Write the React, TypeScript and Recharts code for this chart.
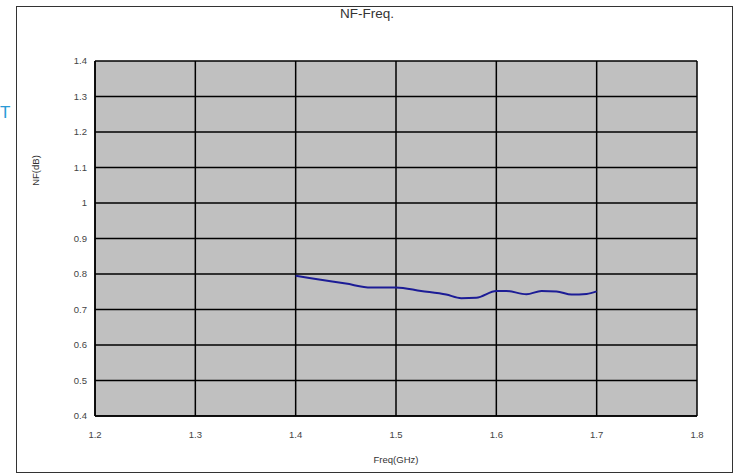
import { CartesianGrid, Label, Line, LineChart, XAxis, YAxis } from "recharts"

const freqs = [1.4, 1.425, 1.45, 1.475, 1.5, 1.525, 1.55, 1.565, 1.58, 1.6, 1.61, 1.63, 1.645, 1.66, 1.675, 1.69, 1.7]
const nf = [0.795, 0.784, 0.773, 0.762, 0.762, 0.752, 0.742, 0.732, 0.733, 0.752, 0.752, 0.743, 0.752, 0.751, 0.742, 0.744, 0.751]

const xTicks = [1.2, 1.3, 1.4, 1.5, 1.6, 1.7, 1.8]
const yTicks = [0.4, 0.5, 0.6, 0.7, 0.8, 0.9, 1, 1.1, 1.2, 1.3, 1.4]

const data = freqs.map((f, i) => ({ freq: f, nf: nf[i] }))

const tickStyle = { fontSize: 9.5, fill: "#444", fontFamily: "Liberation Sans, Arial, sans-serif" }

export default function App() {
  return (
    <div style={{ position: "fixed", left: 0, top: 0, width: 735, height: 475, background: "#fff", fontFamily: "Liberation Sans, Arial, sans-serif" }}>
      <span style={{ position: "absolute", left: 0, top: 103, fontSize: 17, color: "#2a9ad6" }}>T</span>
      <div style={{ position: "absolute", left: 16, top: 6, width: 715, height: 465, border: "1.5px solid #333" }} />
      <span style={{ position: "absolute", left: 367, top: 6, transform: "translateX(-50%)", whiteSpace: "nowrap", fontSize: 13.5, color: "#333" }}>NF-Freq.</span>
      <div style={{ position: "absolute", left: 0, top: 0 }}>
        <LineChart width={735} height={475} data={data} margin={{ top: 61, right: 38, bottom: 29, left: 55 }}>
          <CartesianGrid fill="#c0c0c0" fillOpacity={1} stroke="#000" strokeWidth={1.5} strokeOpacity={1} />
          <XAxis
            dataKey="freq"
            type="number"
            domain={[1.2, 1.8]}
            ticks={xTicks}
            tickFormatter={(v: number) => String(v)}
            axisLine={{ stroke: "#000", strokeWidth: 1.5 }}
            tickLine={false}
            tickSize={6}
            tickMargin={9}
            tick={tickStyle}
            height={30}
          >
            <Label value="Freq(GHz)" position="insideBottom" offset={-17} style={{ fontSize: 9.5, fill: "#333" }} />
          </XAxis>
          <YAxis
            type="number"
            domain={[0.4, 1.4]}
            ticks={yTicks}
            tickFormatter={(v: number) => String(v)}
            axisLine={{ stroke: "#000", strokeWidth: 1.5 }}
            tickLine={false}
            tickSize={6}
            tickMargin={2}
            tick={tickStyle}
            width={40}
          >
            <Label value="NF(dB)" angle={-90} position="insideLeft" offset={-19} dy={-68} style={{ fontSize: 9.5, fill: "#333", textAnchor: "middle" }} />
          </YAxis>
          <Line dataKey="nf" type="monotone" stroke="#1c1c96" strokeWidth={2} dot={false} isAnimationActive={false} />
        </LineChart>
      </div>
    </div>
  )
}
